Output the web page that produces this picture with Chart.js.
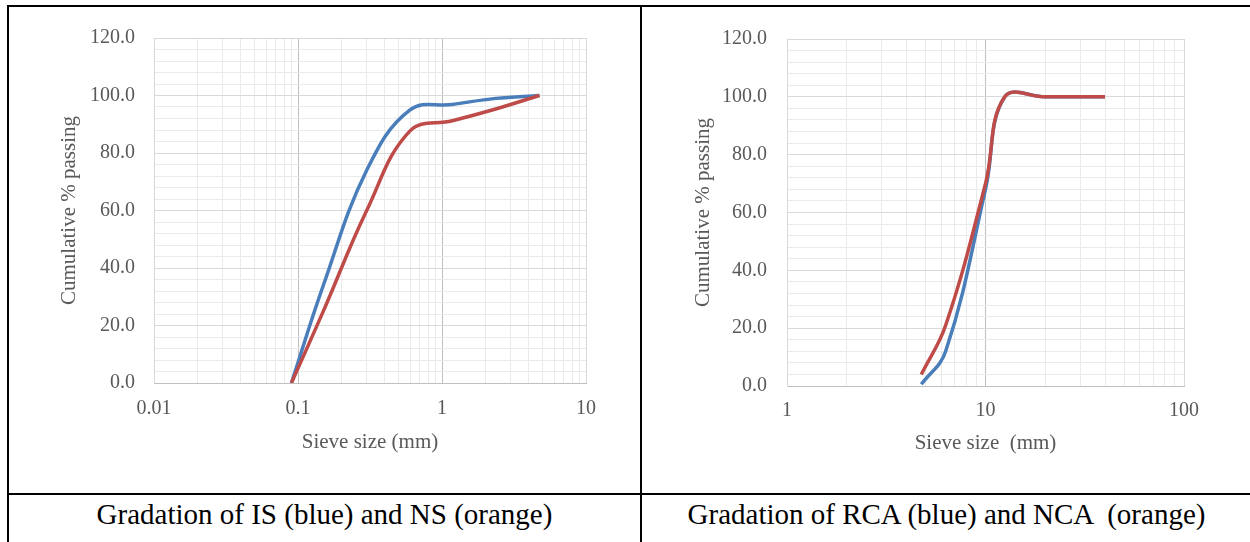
<!DOCTYPE html>
<html>
<head>
<meta charset="utf-8">
<script src="https://cdn.jsdelivr.net/npm/chart.js@4"></script>
<style>
  body { margin: 0; width: 1250px; height: 542px; background: #fff; position: relative; overflow: hidden; font-family: "Liberation Serif", serif; }
  .rule { position: absolute; background: #000; }
  canvas { position: absolute; }
  .caption { position: absolute; top: 495px; height: 38px; line-height: 38px; font-size: 29px; color: #000; text-align: center; white-space: pre; font-family: "Liberation Serif", serif; }
</style>
</head>
<body>
<div class="rule" style="left:7px; top:5px; width:1250px; height:2px;"></div>
<div class="rule" style="left:7px; top:5px; width:2px; height:540px;"></div>
<div class="rule" style="left:640px; top:5px; width:2px; height:540px;"></div>
<div class="rule" style="left:7px; top:493px; width:1250px; height:2px;"></div>

<canvas id="fineChart" width="631" height="486" style="left:9px; top:7px;"></canvas>
<canvas id="coarseChart" width="608" height="486" style="left:642px; top:7px;"></canvas>

<div class="caption" style="left:9px; width:631px;">Gradation of IS (blue) and NS (orange)</div>
<div class="caption" style="left:642px; width:609px;">Gradation of RCA (blue) and NCA  (orange)</div>

<script>
// fine aggregate (left chart)
const sieveFine = [0.09, 0.15, 0.3, 0.6, 1.18, 2.36, 4.75];
const passingIS = [0, 34, 74, 95, 96.9, 99, 100];
const passingNS = [0, 25, 60, 87.7, 91.2, 95.3, 100];
const decadesFine = [0.01, 0.1, 1, 10];

// coarse aggregate (right chart)
const sieveCoarse = [4.75, 6.3, 10, 12.5, 20, 40];
const passingRCA = [0.6, 12, 68, 100, 100, 100];
const passingNCA = [4, 21, 70, 100, 100, 100];
const decadesCoarse = [1, 10, 100];

const yMax = 120;
const yStep = 4;
const yLabelStep = 20;

const BLUE = '#4A7EBB';
const RED = '#BE4B48';
const TEXT = '#595959';
const FONT = 'Liberation Serif';

const minorTicks = (decades) => {
    const out = [];
    decades.forEach((d, i) => {
        out.push(d);
        if (i < decades.length - 1) {
            for (let k = 2; k <= 9; k++) out.push(d * k);
        }
    });
    return out;
};

const createChart = (id, sieves, blueVals, redVals, decades, xTitle, box) => {
    const ctx = document.getElementById(id).getContext('2d');
    const toPoints = (vals) => sieves.map((x, i) => ({ x: x, y: vals[i] }));
    const first = decades[0], last = decades[decades.length - 1];
    return new Chart(ctx, {
        type: 'line',
        data: {
            datasets: [
                { label: 'blue', data: toPoints(blueVals), borderColor: BLUE, borderWidth: 3.5, pointRadius: 0, tension: 0.4, fill: false, order: 1 },
                { label: 'red', data: toPoints(redVals), borderColor: RED, borderWidth: 3.5, pointRadius: 0, tension: 0.4, fill: false, order: 0 }
            ]
        },
        options: {
            responsive: false,
            animation: false,
            layout: { padding: { top: box.top, right: box.right, left: 0, bottom: 0 } },
            plugins: { legend: { display: false }, tooltip: { enabled: false } },
            scales: {
                x: {
                    type: 'logarithmic',
                    min: first,
                    max: last,
                    afterBuildTicks: (s) => { s.ticks = minorTicks(decades).map(v => ({ value: v })); },
                    afterFit: (s) => { s.height = box.xh; },
                    ticks: {
                        autoSkip: false, maxRotation: 0, padding: box.xtp, color: TEXT,
                        font: { family: FONT, size: 20 },
                        callback: (v) => decades.includes(v) ? String(v) : ''
                    },
                    grid: {
                        drawTicks: false,
                        lineWidth: 1,
                        color: (c) => {
                            const v = c.tick ? c.tick.value : 0;
                            if (v === first || v === last) return '#D9D9D9';
                            return decades.includes(v) ? '#BFBFBF' : '#EAEAEA';
                        }
                    },
                    border: { color: '#BFBFBF', width: 1 },
                    title: { display: true, text: xTitle, color: TEXT, font: { family: FONT, size: 21 }, padding: { top: 0, bottom: box.xtitle } }
                },
                y: {
                    min: 0,
                    max: yMax,
                    afterFit: (s) => { s.width = box.yw; },
                    ticks: {
                        stepSize: yStep, autoSkip: false, padding: box.ytp, color: TEXT,
                        font: { family: FONT, size: 20 },
                        callback: (v) => v % yLabelStep === 0 ? v.toFixed(1) : ''
                    },
                    grid: {
                        drawTicks: false,
                        lineWidth: 1,
                        color: (c) => (c.tick && c.tick.value % yLabelStep === 0) ? '#D9D9D9' : '#EAEAEA'
                    },
                    border: { color: '#D9D9D9', width: 1 },
                    title: { display: true, text: 'Cumulative % passing', color: TEXT, font: { family: FONT, size: 21 }, padding: { top: box.ytitle, bottom: 0 } }
                }
            }
        }
    });
};

createChart('fineChart', sieveFine, passingIS, passingNS, decadesFine, 'Sieve size (mm)',
    { top: 29, right: 54, yw: 145, xh: 110, xtp: 14, ytp: 19, xtitle: 38.4, ytitle: 47.4 });
createChart('coarseChart', sieveCoarse, passingRCA, passingNCA, decadesCoarse, 'Sieve size  (mm)',
    { top: 29, right: 66, yw: 145, xh: 107, xtp: 13, ytp: 20, xtitle: 37.4, ytitle: 48.4 });
</script>
</body>
</html>
